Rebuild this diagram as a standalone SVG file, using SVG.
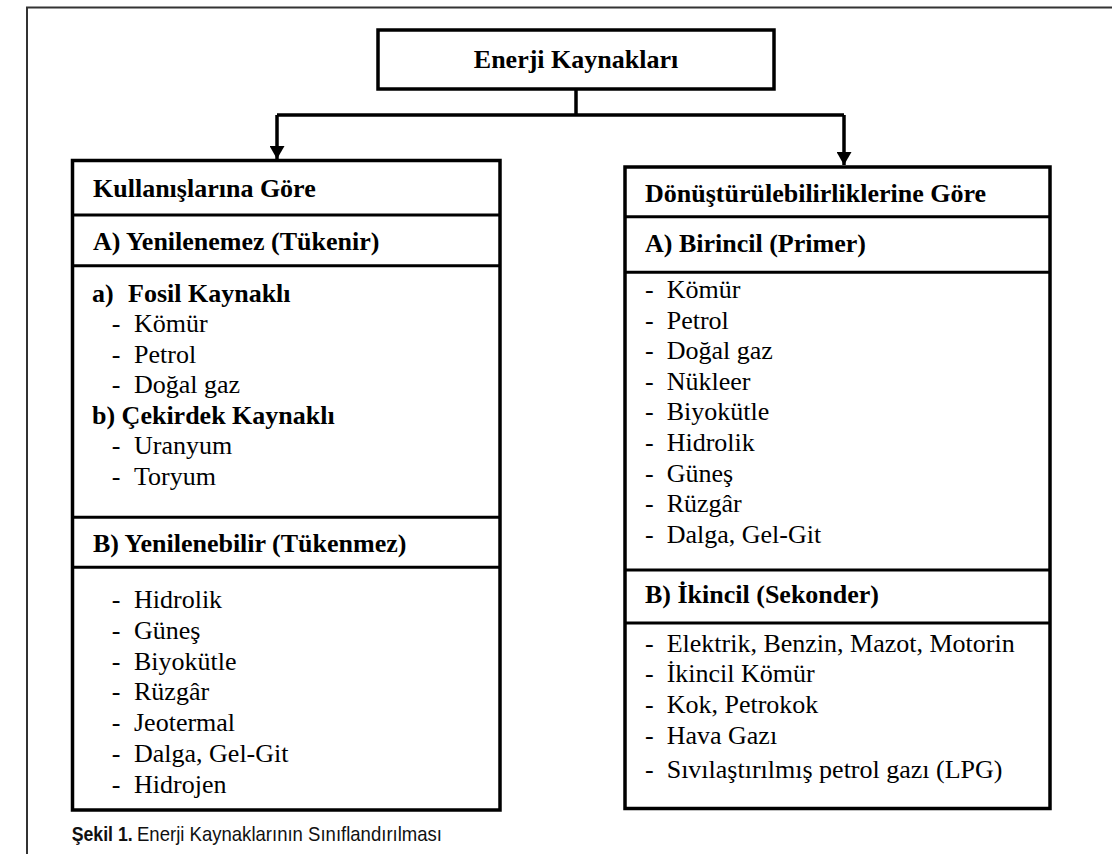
<svg xmlns="http://www.w3.org/2000/svg" width="1112" height="854" viewBox="0 0 1112 854">
<style>
.t{font-family:"Liberation Serif","Times New Roman",serif;font-size:26px;fill:#000}
.b{font-weight:bold}
.box{fill:#fff;stroke:#000;stroke-width:3.5}
.div{stroke:#000;stroke-width:3}
.con{fill:none;stroke:#000;stroke-width:3.5}
.cap{font-family:"Liberation Sans Narrow","Liberation Sans",Arial,sans-serif;font-size:21px;fill:#111}
</style>
<defs>
<marker id="arr" viewBox="0 0 13 15" refX="13" refY="7.5" markerWidth="13" markerHeight="15" markerUnits="userSpaceOnUse" orient="auto">
<path d="M0,0 L13,7.5 L0,15 Z" fill="#000"/>
</marker>
</defs>
<rect width="1112" height="854" fill="#fff"/>
<path d="M27,854 V7.5 H1112" fill="none" stroke="#333" stroke-width="2"/>

<g id="connectors">
<path class="con" d="M576,89 V115"/>
<path class="con" d="M277,115 H844"/>
<path class="con" d="M277,115 V159" marker-end="url(#arr)"/>
<path class="con" d="M844,115 V165" marker-end="url(#arr)"/>
</g>

<g id="root">
<rect class="box" x="378" y="30" width="396" height="59"/>
<text class="t b" x="576" y="68" text-anchor="middle">Enerji Kaynakları</text>
</g>

<g id="kullanis">
<rect class="box" x="72.5" y="160.5" width="427.5" height="649.5"/>
<line class="div" x1="72.5" y1="215" x2="500" y2="215"/>
<line class="div" x1="72.5" y1="265.7" x2="500" y2="265.7"/>
<line class="div" x1="72.5" y1="517.3" x2="500" y2="517.3"/>
<line class="div" x1="72.5" y1="567.3" x2="500" y2="567.3"/>
<text class="t b" x="93" y="197">Kullanışlarına Göre</text>
<text class="t b" x="93" y="250">A) Yenilenemez (Tükenir)</text>
<text class="t b" x="92" y="301.7">a)<tspan x="128">Fosil Kaynaklı</tspan></text>
<g class="t">
<text x="111.7" y="332.2">-<tspan x="134">Kömür</tspan></text>
<text x="111.7" y="362.7">-<tspan x="134">Petrol</tspan></text>
<text x="111.7" y="393.2">-<tspan x="134">Doğal gaz</tspan></text>
<text x="111.7" y="454.2">-<tspan x="134">Uranyum</tspan></text>
<text x="111.7" y="484.7">-<tspan x="134">Toryum</tspan></text>
</g>
<text class="t b" x="92" y="423.7">b) Çekirdek Kaynaklı</text>
<text class="t b" x="93" y="551.7">B) Yenilenebilir (Tükenmez)</text>
<g class="t">
<text x="111.7" y="608">-<tspan x="134">Hidrolik</tspan></text>
<text x="111.7" y="638.8">-<tspan x="134">Güneş</tspan></text>
<text x="111.7" y="669.6">-<tspan x="134">Biyokütle</tspan></text>
<text x="111.7" y="700.4">-<tspan x="134">Rüzgâr</tspan></text>
<text x="111.7" y="731.2">-<tspan x="134">Jeotermal</tspan></text>
<text x="111.7" y="762">-<tspan x="134">Dalga, Gel-Git</tspan></text>
<text x="111.7" y="792.8">-<tspan x="134">Hidrojen</tspan></text>
</g>
</g>

<g id="donusturulebilirlik">
<rect class="box" x="625" y="167" width="425" height="641.5"/>
<line class="div" x1="625" y1="216.7" x2="1050" y2="216.7"/>
<line class="div" x1="625" y1="272.3" x2="1050" y2="272.3"/>
<line class="div" x1="625" y1="570" x2="1050" y2="570"/>
<line class="div" x1="625" y1="623" x2="1050" y2="623"/>
<text class="t b" x="645" y="202">Dönüştürülebilirliklerine Göre</text>
<text class="t b" x="645" y="251.7">A) Birincil (Primer)</text>
<g class="t">
<text x="645" y="298">-<tspan x="666.7">Kömür</tspan></text>
<text x="645" y="328.6">-<tspan x="666.7">Petrol</tspan></text>
<text x="645" y="359.2">-<tspan x="666.7">Doğal gaz</tspan></text>
<text x="645" y="389.8">-<tspan x="666.7">Nükleer</tspan></text>
<text x="645" y="420.4">-<tspan x="666.7">Biyokütle</tspan></text>
<text x="645" y="451">-<tspan x="666.7">Hidrolik</tspan></text>
<text x="645" y="481.6">-<tspan x="666.7">Güneş</tspan></text>
<text x="645" y="512.2">-<tspan x="666.7">Rüzgâr</tspan></text>
<text x="645" y="542.8">-<tspan x="666.7">Dalga, Gel-Git</tspan></text>
</g>
<text class="t b" x="645" y="603">B) İkincil (Sekonder)</text>
<g class="t">
<text x="645" y="651.7">-<tspan x="666.7">Elektrik, Benzin, Mazot, Motorin</tspan></text>
<text x="645" y="682.3">-<tspan x="666.7">İkincil Kömür</tspan></text>
<text x="645" y="712.9">-<tspan x="666.7">Kok, Petrokok</tspan></text>
<text x="645" y="743.5">-<tspan x="666.7">Hava Gazı</tspan></text>
<text x="645" y="778">-<tspan x="666.7">Sıvılaştırılmış petrol gazı (LPG)</tspan></text>
</g>
</g>

<g id="caption">
<text class="cap b" x="71.7" y="841" textLength="61" lengthAdjust="spacingAndGlyphs">Şekil 1.</text>
<text class="cap" x="137" y="841" textLength="305" lengthAdjust="spacingAndGlyphs">Enerji Kaynaklarının Sınıflandırılması</text>
</g>
</svg>
